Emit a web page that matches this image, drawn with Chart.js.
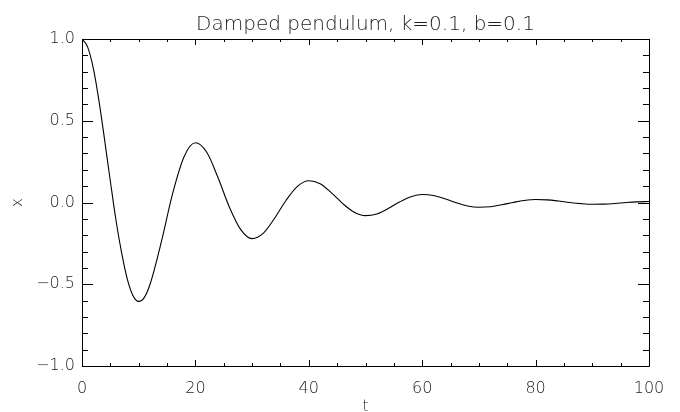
<!DOCTYPE html>
<html lang="en">
<head>
<meta charset="UTF-8">
<title>Damped pendulum</title>
<script src="https://cdn.jsdelivr.net/npm/chart.js"></script>
<style>
  body { margin: 0; background: #fff; }
  canvas { display: block; }
</style>
</head>
<body>
<canvas id="pendulumChart" width="680" height="412"></canvas>
<script>
// values
const tValues = [0, 1, 2, 3, 4, 5, 6, 7, 8, 9, 10, 11, 12,
    14, 16, 18, 20, 22, 24, 26, 28, 30, 32, 34, 36, 38, 40,
    42, 44, 46, 48, 50, 52, 54, 56, 58, 60, 62, 64, 66, 68, 70,
    72, 74, 76, 78, 80, 82, 84, 86, 88, 90, 92, 94, 96, 98, 100];
const xValues = [1.00, 0.95, 0.82, 0.62, 0.38, 0.13, -0.11, -0.31, -0.47, -0.57, -0.605, -0.58, -0.50,
    -0.24, 0.057, 0.28, 0.365, 0.307, 0.151, -0.029, -0.166, -0.221, -0.187, -0.095, 0.014, 0.099, 0.133,
    0.115, 0.059, -0.007, -0.059, -0.080, -0.070, -0.037, 0.003, 0.035, 0.049, 0.043, 0.023, -0.001, -0.021, -0.029,
    -0.026, -0.014, 0.000, 0.012, 0.018, 0.016, 0.009, 0.000, -0.007, -0.011, -0.010, -0.006, 0.000, 0.004, 0.006];

const xTicks = [0, 20, 40, 60, 80, 100];
const yTicks = [-1.0, -0.5, 0.0, 0.5, 1.0];
const titleText = 'Damped pendulum, k=0.1, b=0.1';

const fontFamily = '"DejaVu Sans", sans-serif';
const textColor = '#222';

// minor tick positions (5 per major on x, 0.1 steps on y)
const xMinor = [];
for (let v = 0; v <= 100; v += 5) xMinor.push(v);
const yMinor = [];
for (let i = -10; i <= 10; i++) yMinor.push(i / 10);

// IDL-style box: frame, inward ticks on all four sides, title over the plot area
const boxPlugin = {
    id: 'box',
    afterDraw(chart) {
        const { ctx, chartArea: a, scales } = chart;
        ctx.save();
        ctx.strokeStyle = '#000';
        ctx.lineWidth = 1;
        ctx.beginPath();
        ctx.rect(a.left + 0.5, a.top + 0.5, a.right - a.left, a.bottom - a.top);

        const xTick = (v, len) => {
            const px = Math.round(scales.x.getPixelForValue(v)) + 0.5;
            ctx.moveTo(px, a.bottom); ctx.lineTo(px, a.bottom - len);
            ctx.moveTo(px, a.top); ctx.lineTo(px, a.top + len);
        };
        const yTick = (v, len) => {
            const py = Math.round(scales.y.getPixelForValue(v)) + 0.5;
            ctx.moveTo(a.left, py); ctx.lineTo(a.left + len, py);
            ctx.moveTo(a.right, py); ctx.lineTo(a.right - len, py);
        };
        xMinor.forEach(v => xTick(v, xTicks.includes(v) ? 6 : 3));
        yMinor.forEach(v => yTick(v, yTicks.some(t => Math.abs(t - v) < 1e-9) ? 11 : 6));
        ctx.stroke();

        ctx.fillStyle = textColor;
        ctx.font = '200 20px ' + fontFamily;
        ctx.textAlign = 'center';
        ctx.textBaseline = 'alphabetic';
        ctx.fillText(titleText, (a.left + a.right) / 2, 30);
        ctx.restore();
    }
};

const tickFont = { family: fontFamily, size: 16, weight: 200 };

const config = {
    type: 'line',
    data: {
        datasets: [{
            data: tValues.map((t, i) => ({ x: t, y: xValues[i] })),
            borderColor: '#000',
            borderWidth: 1.1,
            pointRadius: 0,
            fill: false,
            cubicInterpolationMode: 'monotone'
        }]
    },
    options: {
        responsive: false,
        animation: false,
        layout: { padding: { top: 39, right: 31, left: 0, bottom: 0 } },
        plugins: {
            legend: { display: false },
            tooltip: { enabled: false }
        },
        scales: {
            x: {
                type: 'linear',
                min: 0,
                max: 100,
                afterBuildTicks: s => { s.ticks = xTicks.map(v => ({ value: v })); },
                afterFit: s => { s.height = 46; },
                grid: { display: false },
                border: { display: false },
                ticks: {
                    color: textColor,
                    font: tickFont,
                    padding: 5,
                    maxRotation: 0,
                    callback: v => String(v)
                },
                title: {
                    display: true,
                    text: 't',
                    color: textColor,
                    font: { family: fontFamily, size: 15, weight: 200, lineHeight: 0.7 },
                    padding: { top: 0, bottom: 0 }
                }
            },
            y: {
                min: -1,
                max: 1,
                afterBuildTicks: s => { s.ticks = yTicks.map(v => ({ value: v })); },
                afterFit: s => { s.width = 82; },
                grid: { display: false, drawTicks: false },
                border: { display: false },
                ticks: {
                    color: textColor,
                    font: tickFont,
                    padding: 7,
                    callback: v => (v < 0 ? '\u2212' : '') + Math.abs(v).toFixed(1)
                },
                title: {
                    display: true,
                    text: 'x',
                    color: textColor,
                    font: { family: fontFamily, size: 15, weight: 200, lineHeight: 1 },
                    padding: { top: 11, bottom: 0 }
                }
            }
        }
    },
    plugins: [boxPlugin]
};

new Chart(document.getElementById('pendulumChart'), config);
</script>
</body>
</html>
